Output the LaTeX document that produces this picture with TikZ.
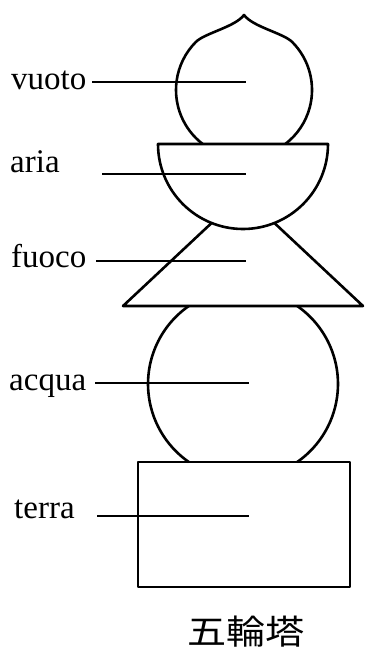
\documentclass[tikz,border=0pt]{standalone}
\usepackage{fontspec}
\setmainfont{Liberation Serif}
\newfontfamily\cjkfont{Noto Sans CJK JP}
\begin{document}
\begin{tikzpicture}[x=1pt, y=-1pt,
        part/.style={line width=2.6pt, line join=round},
        leader/.style={line width=1.4pt},
        elem/.style={anchor=base west, inner sep=0pt, font=\fontsize{33}{38}\selectfont}]
        \useasboundingbox (0,0) rectangle (365,652);
        % Vuoto (jewel with a point)
        \draw[part] (202.7,144) arc[start angle=127.4, end angle=225, radius=68]
            .. controls (205,33) and (235,27) .. (244,15)
            .. controls (253,27) and (283,33) .. (292.1,41.9)
            arc[start angle=315, end angle=412.6, radius=68];
        % Aria (half disc)
        \draw[part] (158,144) -- (328,144) arc[start angle=0, end angle=180, radius=85] -- cycle;
        % Fuoco (trapezoid)
        \draw[part] (211.6,223) -- (123,306) -- (363,306) -- (274.4,223);
        % Acqua (sphere)
        \draw[part] (188.8,306) arc[start angle=235.2, end angle=124.8, radius=95];
        \draw[part] (297.2,306) arc[start angle=-55.2, end angle=55.2, radius=95];
        % Terra (cube)
        \draw[part] (138,462) rectangle (350,587);
        % Labels and leader lines
        \foreach \name/\tx/\ty/\ly/\xa/\xb in {vuoto/11/90/82/92/246, aria/10/173/174/102/246,
            fuoco/11/267/261/96/246, acqua/9/390/383/95/249, terra/14/518/516/97/249} {
            \node[elem] (\name) at (\tx,\ty) {\name};
            \coordinate (\name-a) at (\xa,\ly);
            \coordinate (\name-b) at (\xb,\ly);
            \draw[leader] (\name-a) -- (\name-b);
        }
        % Title
        \node[font=\cjkfont\fontsize{34}{40}\selectfont, inner sep=0pt] (title) at (246,632) {\scalebox{1.15}[1]{五輪塔}};
    \end{tikzpicture}
\end{document}
